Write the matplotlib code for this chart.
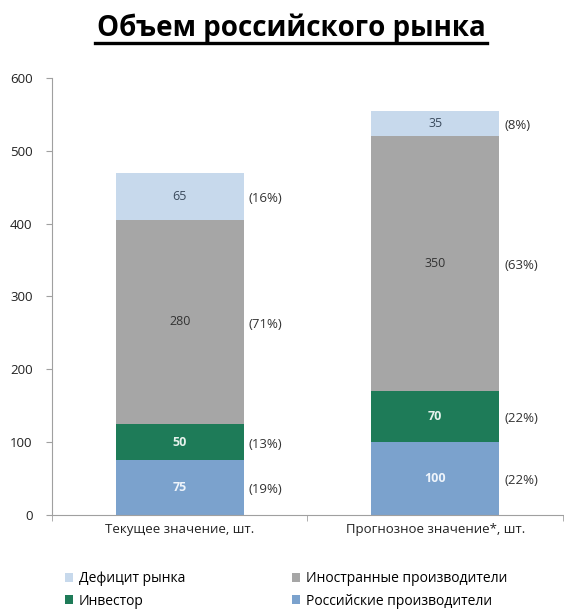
import numpy as np
import matplotlib.pyplot as plt

plt.rcParams['font.family'] = ['Open Sans', 'DejaVu Sans']

categories = ["Текущее значение, шт.", "Прогнозное значение*, шт."]
series_names = ["Российские производители", "Инвестор", "Иностранные производители", "Дефицит рынка"]
russian = [75, 100]
investor = [50, 70]
foreign = [280, 350]
deficit = [65, 35]
pct_labels = [
    ["(19%)", "(22%)"],
    ["(13%)", "(22%)"],
    ["(71%)", "(63%)"],
    ["(16%)", "(8%)"],
]

colors = ["#7ba2cd", "#1e7b58", "#a6a6a6", "#c7d9ec"]
text_colors = ["#eef4fb", "#e6f2ec", "#333333", "#3a4a5c"]
text_weights = ["bold", "bold", "normal", "normal"]

fig = plt.figure(figsize=(5.64, 6.10), dpi=100)
ax = fig.add_axes([0.092, 0.156, 0.906, 0.716])

x = np.arange(len(categories))
width = 0.5
bottom = np.zeros(len(categories))
handles = {}
for i, vals in enumerate([russian, investor, foreign, deficit]):
    vals = np.array(vals)
    bars = ax.bar(x, vals, width, bottom=bottom, color=colors[i], label=series_names[i])
    handles[series_names[i]] = bars
    for j in range(len(x)):
        yc = bottom[j] + vals[j] / 2
        ax.text(x[j], yc, str(vals[j]), ha="center", va="center", fontsize=9,
                color=text_colors[i], fontweight=text_weights[i])
        ax.text(x[j] + width / 2 + 0.02, yc - 3, pct_labels[i][j], ha="left", va="center",
                fontsize=9.5, color="#333333")
    bottom += vals

ax.set_xlim(-0.5, 1.5)
ax.set_ylim(0, 600)
ax.set_yticks(range(0, 601, 100))
ax.set_xticks(x)
ax.set_xticklabels(categories, fontsize=9.5, color="#222222")
ax.set_xticks([-0.5, 0.5, 1.5], minor=True)
ax.tick_params(axis="x", which="major", length=0, pad=6)
ax.tick_params(axis="x", which="minor", length=4, color="#a0a0a0")
ax.tick_params(axis="y", length=4, color="#a0a0a0", labelsize=9.5, labelcolor="#222222", pad=10)
for s in ["top", "right"]:
    ax.spines[s].set_visible(False)
for s in ["left", "bottom"]:
    ax.spines[s].set_color("#a0a0a0")

fig.text(0.516, 0.941, "Объем российского рынка", ha="center", va="baseline",
         fontsize=20, fontweight="bold")
fig.add_artist(plt.Line2D([0.168, 0.864], [0.930, 0.930], color="black", lw=2.4))

order = ["Дефицит рынка", "Инвестор", "Иностранные производители", "Российские производители"]
leg = fig.legend([handles[n] for n in order], order, ncol=2, loc="center",
                 bbox_to_anchor=(0.507, 0.033), frameon=False, fontsize=10,
                 handlelength=0.6, handleheight=0.6, handletextpad=0.4,
                 columnspacing=7.7, labelspacing=0.55)

fig.savefig("out.png", dpi=100)
